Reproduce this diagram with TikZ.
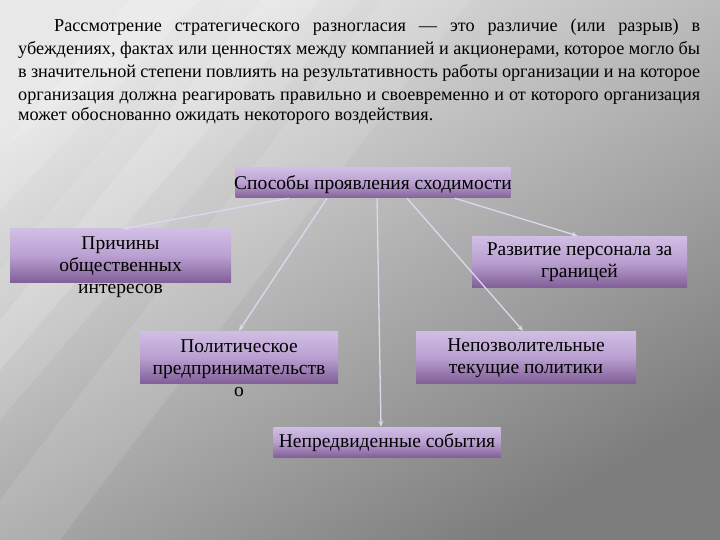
\documentclass[tikz,border=0pt]{standalone}
\usepackage{fontspec}
\setmainfont{Liberation Serif}
\usetikzlibrary{arrows.meta}
\definecolor{boxlight}{RGB}{208,190,228}
\definecolor{boxmid}{RGB}{186,160,210}
\definecolor{boxdark}{RGB}{130,96,152}
\definecolor{arrowc}{RGB}{222,214,238}
\definecolor{bglight}{RGB}{230,230,230}
\definecolor{bgdark}{RGB}{125,125,125}
\begin{document}
\begin{tikzpicture}[x=1pt,y=-1pt,
  pbox/.style={inner sep=0pt, top color=boxlight, bottom color=boxdark, middle color=boxmid},
  lbl/.style={align=center, font=\fontsize{19.5}{22}\selectfont, text=black, inner sep=0pt},
  body/.style={anchor=base west, inner sep=0pt, font=\fontsize{18.2}{23}\selectfont},
  conn/.style={draw=arrowc, line width=1.3pt, -{Stealth[length=6pt,width=5pt]}}]
% background
\path[use as bounding box] (0,0) rectangle (720,540);
\shade[left color=bglight, right color=bgdark, shading angle=30] (0,0) rectangle (720,540);
\fill[white, opacity=0.10] (230,0) -- (360,0) -- (0,420) -- (0,270) -- cycle;
\fill[white, opacity=0.15] (260,0) -- (320,0) -- (0,370) -- (0,320) -- cycle;
\fill[white, opacity=0.10] (380,0) -- (470,0) -- (60,540) -- (0,540) -- (0,500) -- cycle;
\fill[white, opacity=0.12] (130,0) -- (200,0) -- (0,210) -- (0,150) -- cycle;
\fill[white, opacity=0.10] (0,0) -- (200,0) -- (0,150) -- cycle;
% body text
\node[body] (t1) at (54,31.5) {\makebox[646pt][s]{Рассмотрение стратегического разногласия — это различие (или разрыв) в}};
\node[body] (t2) at (18,54.5) {\makebox[682pt][s]{убеждениях, фактах или ценностях между компанией и акционерами, которое могло бы}};
\node[body] (t3) at (18,77.5) {\makebox[682pt][s]{в значительной степени повлиять на результативность работы организации и на которое}};
\node[body] (t4) at (18,100.5) {\makebox[682pt][s]{организация должна реагировать правильно и своевременно и от которого организация}};
\node[body] (t5) at (18,121) {может обоснованно ожидать некоторого воздействия.};
% boxes
\node[pbox, minimum width=275pt, minimum height=30pt] (top) at (373,183) {};
\node[pbox, minimum width=221pt, minimum height=53pt] (pl) at (120.5,255.5) {};
\node[pbox, minimum width=215pt, minimum height=51pt] (pr) at (579.5,261.5) {};
\node[pbox, minimum width=198pt, minimum height=52pt] (pp) at (239,357) {};
\node[pbox, minimum width=220pt, minimum height=52pt] (pn) at (526,357) {};
\node[pbox, minimum width=227pt, minimum height=30pt] (pe) at (387,442) {};
% labels
\node[lbl] (ltop) at (373,185) {Способы проявления сходимости};
\node[lbl] (lpl) at (120.5,267) {Причины\\общественных\\интересов};
\node[lbl] (lpr) at (579.5,262.5) {Развитие персонала за\\границей};
\node[lbl] (lpp) at (239,368.5) {Политическое\\предпринимательств\\о};
\node[lbl] (lpn) at (526,358) {Непозволительные\\текущие политики};
\node[lbl] (lpe) at (387,443) {Непредвиденные события};
% connectors
\draw[conn] ([xshift=-84pt]top.south) -- ([xshift=2.5pt]pl.north);
\draw[conn] ([xshift=-46pt]top.south) -- (pp.north);
\draw[conn] ([xshift=4pt]top.south) -- ([xshift=-6pt]pe.north);
\draw[conn] ([xshift=34pt]top.south) -- ([xshift=-3pt]pn.north);
\draw[conn] ([xshift=81.5pt]top.south) -- ([xshift=-2pt]pr.north);
\end{tikzpicture}
\end{document}
